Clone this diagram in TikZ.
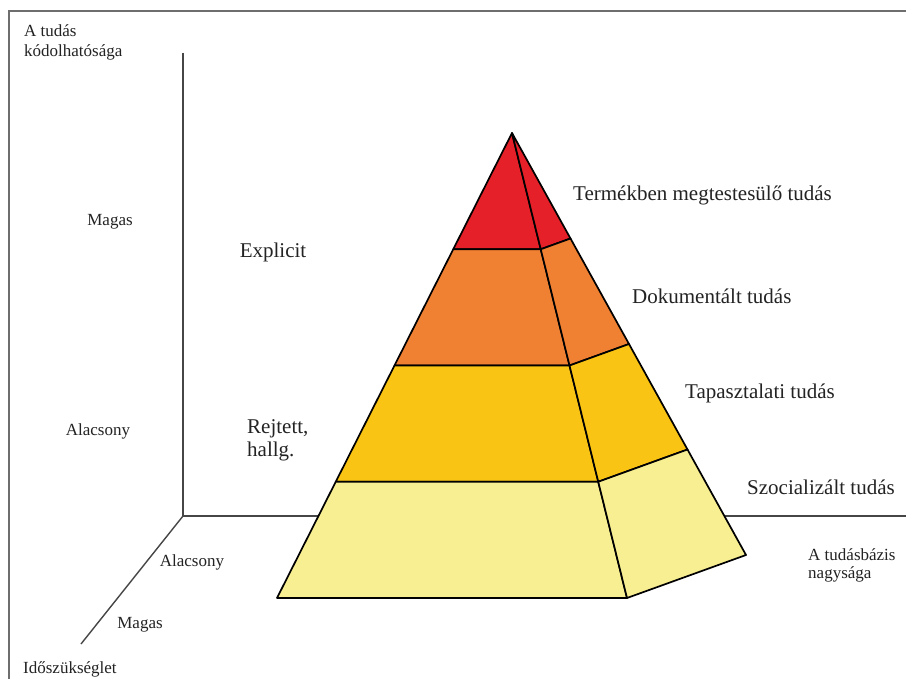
\documentclass[tikz,border=0pt]{standalone}
\usepackage{fontspec}
\setmainfont{Liberation Serif}
\usetikzlibrary{calc}
\definecolor{pyrred}{RGB}{230,32,40}
\definecolor{pyrorange}{RGB}{240,128,50}
\definecolor{pyrgold}{RGB}{250,196,20}
\definecolor{pyrpale}{RGB}{248,238,146}
\definecolor{framegray}{RGB}{110,110,110}
\definecolor{axisgray}{RGB}{70,70,70}
\definecolor{textgray}{RGB}{35,35,35}
\begin{document}
\begin{tikzpicture}[x=1pt,y=-1pt,
  axisline/.style={draw=axisgray,line width=1.4pt},
  frameline/.style={draw=framegray,line width=1.8pt},
  face/.style={draw=black,line width=1.7pt,line join=round},
  small/.style={font=\fontsize{17}{20}\selectfont,inner sep=0pt,text=textgray},
  big/.style={font=\fontsize{21}{24}\selectfont,inner sep=0pt,text=textgray}]
\useasboundingbox (0,0) rectangle (906,679);
\fill[white] (0,0) rectangle (906,679);
% frame
\coordinate (F0) at (9,11);
\coordinate (F1) at (906,11);
\coordinate (F2) at (9,679);
\draw[frameline] (F1) -- (F0) -- (F2);
% axes
\coordinate (O) at (183,516);
\coordinate (Ytop) at (183,53);
\coordinate (Xend) at (906,516);
\coordinate (Zend) at (81,644);
\draw[axisline] (Ytop) -- (O) -- (Xend);
\draw[axisline] (O) -- (Zend);
% pyramid
\coordinate (A) at (512,133);
\coordinate (BL) at (277,598);
\coordinate (BM) at (627,598);
\coordinate (BR) at (746,555);
\foreach \t/\n in {0.25/1,0.5/2,0.75/3}{
  \coordinate (L\n) at ($(A)!\t!(BL)$);
  \coordinate (M\n) at ($(A)!\t!(BM)$);
  \coordinate (R\n) at ($(A)!\t!(BR)$);
}
\path[face,fill=pyrred] (A) -- (L1) -- (M1) -- cycle;
\path[face,fill=pyrred] (A) -- (M1) -- (R1) -- cycle;
\path[face,fill=pyrorange] (L1) -- (L2) -- (M2) -- (M1) -- cycle;
\path[face,fill=pyrorange] (M1) -- (M2) -- (R2) -- (R1) -- cycle;
\path[face,fill=pyrgold] (L2) -- (L3) -- (M3) -- (M2) -- cycle;
\path[face,fill=pyrgold] (M2) -- (M3) -- (R3) -- (R2) -- cycle;
\path[face,fill=pyrpale] (L3) -- (BL) -- (BM) -- (M3) -- cycle;
\path[face,fill=pyrpale] (M3) -- (BM) -- (BR) -- (R3) -- cycle;
% labels
\node[small,align=left,anchor=west] (ylab) at (24,42) {A tudás\\kódolhatósága};
\node[small] (yhigh) at (110,222) {Magas};
\node[small] (ylow) at (98,431) {Alacsony};
\node[big] (expl) at (273,252) {Explicit};
\node[big,align=left,anchor=west,font=\fontsize{21}{23}\selectfont] (rejt) at (247,440) {Rejtett,\\hallg.};
\node[big,anchor=west] (l1) at (573,195) {Termékben megtestesülő tudás};
\node[big,anchor=west] (l2) at (632,296) {Dokumentált tudás};
\node[big,anchor=west] (l3) at (685,393) {Tapasztalati tudás};
\node[big,anchor=west] (l4) at (747,487) {Szocializált tudás};
\node[small,align=left,anchor=west,font=\fontsize{17}{18}\selectfont] (xlab) at (808,565) {A tudásbázis\\nagysága};
\node[small] (zlow) at (192,562) {Alacsony};
\node[small] (zhigh) at (140,625) {Magas};
\node[small,anchor=base west] (zlab) at (23,673) {Időszükséglet};
\end{tikzpicture}
\end{document}
